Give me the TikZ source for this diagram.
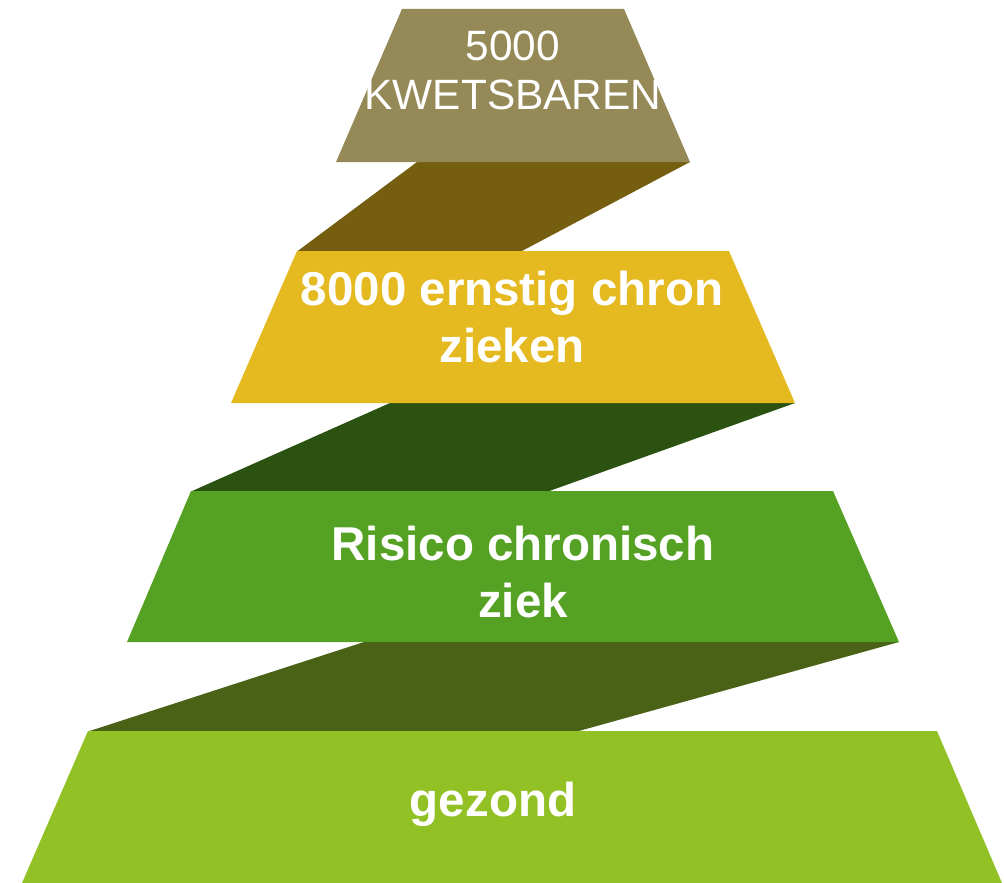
\documentclass[tikz,border=0pt]{standalone}
\usepackage{fontspec}
\setmainfont{Liberation Sans}
\definecolor{lvlA}{HTML}{958957}
\definecolor{conA}{HTML}{765E10}
\definecolor{lvlB}{HTML}{E5B920}
\definecolor{conB}{HTML}{2B5210}
\definecolor{lvlC}{HTML}{55A123}
\definecolor{conC}{HTML}{4A6215}
\definecolor{lvlD}{HTML}{92C126}
\begin{document}
\begin{tikzpicture}[x=1pt,y=-1pt,
  lbl/.style={text=white,align=center,inner sep=0pt,anchor=base,
    font=\fontsize{47.5}{57}\selectfont\bfseries},
  lbltop/.style={text=white,align=center,inner sep=0pt,anchor=base,
    font=\fontsize{42.4}{50}\selectfont}]
\useasboundingbox (0,0) rectangle (1004,883);
% connectors
\fill[conA] (417,162) -- (690,162) -- (521,251.5) -- (297,251.5) -- cycle;
\fill[conB] (390,403) -- (795,403) -- (548,491.5) -- (191,491.5) -- cycle;
\fill[conC] (364,642) -- (899,642) -- (577,731.5) -- (88,731.5) -- cycle;
% levels
\fill[lvlA] (402,9) -- (624,9) -- (690,162) -- (336,162) -- cycle;
\fill[lvlB] (297,251) -- (729,251) -- (795,403) -- (231,403) -- cycle;
\fill[lvlC] (191,491) -- (833,491) -- (899,642) -- (127,642) -- cycle;
\fill[lvlD] (88,731) -- (937,731) -- (1002,883) -- (22,883) -- cycle;
% labels (base anchor = baseline of last line)
\node[lbltop] (ta) at (513,110) {5000\\KWETSBAREN};
\node[lbl] (tb) at (512,362) {8000 ernstig chron\\zieken};
\node[lbl] (tc) at (523,617) {Risico chronisch\\ziek};
\node[lbl] (td) at (493,816) {gezond};
\end{tikzpicture}
\end{document}
